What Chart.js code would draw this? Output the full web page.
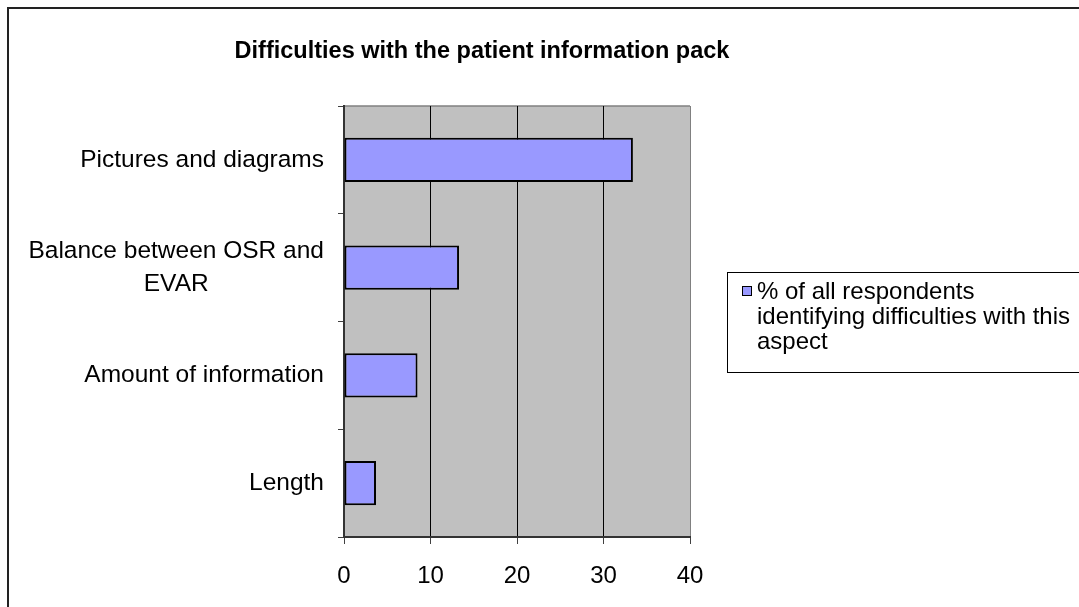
<!DOCTYPE html>
<html>
<head>
<meta charset="utf-8">
<script src="https://cdn.jsdelivr.net/npm/chart.js@4.4.1/dist/chart.umd.min.js"></script>
<style>
    html, body { margin: 0; padding: 0; background: #ffffff; overflow: hidden; }
</style>
</head>
<body>
<canvas id="packChart" width="1079" height="607"></canvas>
<script>
// Chart data
const chartTitle = 'Difficulties with the patient information pack';
const categories = ['Pictures and diagrams', ['Balance between OSR and', 'EVAR'], 'Amount of information', 'Length'];
const values = [33.4, 13.3, 8.5, 3.7];
const xTicks = [0, 10, 20, 30, 40];
const seriesLabel = '% of all respondents identifying difficulties with this aspect';
const legendLines = ['% of all respondents', 'identifying difficulties with this', 'aspect'];

const FONT = '"Liberation Sans", Arial, sans-serif';
const BAR_FILL = '#9999FF';
const PLOT_BG = '#C0C0C0';

// Excel-style frame, title, category labels and legend box
const excelLook = {
    id: 'excelLook',
    beforeDraw(chart) {
        const { ctx, chartArea: a } = chart;
        ctx.save();
        ctx.fillStyle = '#ffffff';
        ctx.fillRect(0, 0, chart.width, chart.height);
        ctx.fillStyle = PLOT_BG;
        ctx.fillRect(a.left, a.top, a.right - a.left, a.bottom - a.top);
        ctx.strokeStyle = '#808080';
        ctx.lineWidth = 1.5;
        ctx.beginPath();
        ctx.moveTo(a.left, a.top);
        ctx.lineTo(a.right, a.top);
        ctx.stroke();
        ctx.restore();
    },
    afterDraw(chart) {
        const { ctx } = chart;
        const yScale = chart.scales.y;
        ctx.save();

        // outer chart border (left and top visible)
        ctx.strokeStyle = '#222222';
        ctx.lineWidth = 2;
        ctx.beginPath();
        ctx.moveTo(8, chart.height + 5);
        ctx.lineTo(8, 8);
        ctx.lineTo(chart.width + 5, 8);
        ctx.stroke();

        // title
        ctx.fillStyle = '#000000';
        ctx.font = 'bold 23.5px ' + FONT;
        ctx.textAlign = 'center';
        ctx.textBaseline = 'middle';
        ctx.fillText(chartTitle, 482, 52);

        // category labels, multi-line ones centred on their widest line
        ctx.font = '24.5px ' + FONT;
        const labelRight = 324;
        categories.forEach((cat, i) => {
            const lines = Array.isArray(cat) ? cat : [cat];
            const y = yScale.getPixelForTick(i);
            const widest = Math.max(...lines.map(l => ctx.measureText(l).width));
            const cx = labelRight - widest / 2;
            const lh = 33;
            const y0 = y - (lines.length - 1) * lh / 2;
            lines.forEach((l, j) => ctx.fillText(l, cx, y0 + j * lh));
        });

        // legend box
        ctx.font = '24px ' + FONT;
        ctx.strokeStyle = '#000000';
        ctx.lineWidth = 1;
        ctx.strokeRect(727.5, 272.5, chart.width + 20 - 727, 100);
        ctx.fillStyle = BAR_FILL;
        ctx.fillRect(742.5, 286.5, 9, 9);
        ctx.strokeRect(742.5, 286.5, 9, 9);
        ctx.fillStyle = '#000000';
        ctx.textAlign = 'left';
        legendLines.forEach((l, j) => ctx.fillText(l, 757, 292 + j * 25));

        ctx.restore();
    }
};

new Chart(document.getElementById('packChart'), {
    type: 'bar',
    data: {
        labels: categories,
        datasets: [{
            label: seriesLabel,
            data: values,
            backgroundColor: BAR_FILL,
            borderColor: '#000000',
            borderWidth: 2,
            borderSkipped: false,
            categoryPercentage: 1,
            barPercentage: 0.41
        }]
    },
    options: {
        indexAxis: 'y',
        responsive: false,
        animation: false,
        layout: {
            padding: { top: 106, left: 0, right: 389, bottom: 18 }
        },
        scales: {
            x: {
                min: xTicks[0],
                max: xTicks[xTicks.length - 1],
                afterBuildTicks(scale) {
                    scale.ticks = xTicks.map(v => ({ value: v }));
                },
                afterFit(scale) { scale.height = 52; },
                border: { display: true, color: '#333333', width: 2 },
                grid: {
                    color: ctx => ctx.index === 0 ? 'rgba(0,0,0,0)' : (ctx.index === xTicks.length - 1 ? '#808080' : '#000000'),
                    lineWidth: 1,
                    drawTicks: true,
                    tickLength: 7,
                    tickColor: '#404040'
                },
                ticks: {
                    color: '#000000',
                    padding: 18,
                    maxRotation: 0,
                    font: { family: FONT, size: 24 }
                }
            },
            y: {
                afterFit(scale) { scale.width = 344; },
                border: { display: true, color: '#333333', width: 2 },
                grid: {
                    offset: true,
                    drawOnChartArea: false,
                    drawTicks: true,
                    tickLength: 6,
                    tickColor: '#404040'
                },
                ticks: { display: false }
            }
        },
        plugins: {
            legend: { display: false },
            title: { display: false },
            tooltip: { enabled: false }
        }
    },
    plugins: [excelLook]
});
</script>
</body>
</html>
